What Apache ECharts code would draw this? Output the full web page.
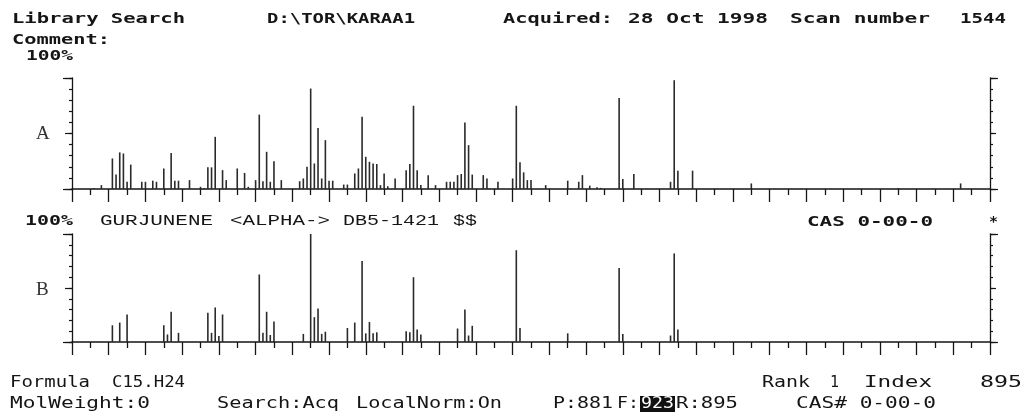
<!DOCTYPE html>
<html><head><meta charset="utf-8">
<script src="https://cdn.jsdelivr.net/npm/echarts@6/dist/echarts.min.js"></script>
<style>html,body{margin:0;padding:0;background:#fff}#c{width:1028px;height:416px}</style>
</head><body><div id="c"></div>
<script>
// Spectrum A (acquired scan 1544): m/z and relative intensity (%)
const mzA = [46,48,51,52,53,54,55,56,59,60,62,63,65,67,68,69,72,75,76,77,78,79,81,82,85,87,88,90,91,92,93,94,95,97,
  102,103,104,105,106,107,108,109,110,111,114,115,117,118,119,120,121,122,123,124,125,126,128,131,132,133,134,135,137,139,
  142,143,144,145,146,147,148,149,152,153,156,160,161,162,163,164,165,169,175,178,179,181,183,184,189,190,193,203,204,205,209,225,265,282];
const intA = [1,3.5,27.5,13,33,32,6.5,22,6.5,6.5,7.5,6.5,18.5,32.5,7.5,7.5,8,2,1,19.5,19.5,47,17,8,18.5,14.5,2,8,67,7,33.5,6.5,25,8,
  7,9.5,20,90.5,23,55,9.5,44,7.5,7.5,4,4,14,18.5,65,29,24.5,23,22.5,3.5,14,2.5,9.5,17,22.5,75,17,3.5,12.5,3.5,
  6.5,6.5,6.5,12.5,13.5,60,39.5,13,12.5,9.5,6.5,9.5,75,24,15,8,8,3.5,7.5,6.5,12.5,3,1.5,1,82,9,13.5,6.5,98,16.5,16.5,5,0.8,5];
// Spectrum B (library: GURJUNENE <ALPHA->)
const mzB = [51,53,55,65,66,67,69,77,78,79,80,81,91,92,93,94,95,103,105,106,107,108,109,115,117,119,120,121,122,123,
  131,132,133,134,135,145,147,148,149,161,162,175,189,190,203,204,205];
const intB = [15.5,18,25.5,15.5,7,28,8.5,27,8.5,32,5.5,25.5,62.5,8.5,28,6.5,19,7.5,100,23,31,7.5,9.5,13,18,75,8,18.5,8,9,
  10,9,60,11.5,7,12.5,30,6,15,85,13,8,68.5,7.5,6,82,11.5];
// Axis settings
const mzMin = 40, mzMax = 290, mzStep = 10;
const pctMin = 0, pctMax = 100;

const ink = '#151515';
function txt(s, x, y, w, o) {
  o = o || {};
  const size = o.size || 14, cw = o.cw || 0.602;
  return {type:'text', x:x, y:y, scaleX: w / (s.length * cw * size), silent:true, z:10,
    style:{text:s, font:(o.weight || 'bold') + ' ' + size + 'px ' + (o.family || '"DejaVu Sans Mono"'),
      fill:o.fill || ink, align:'left', verticalAlign:'middle'}};
}
function xAx(g) {
  return {gridIndex:g, type:'value', min:mzMin, max:mzMax, interval:mzStep,
    axisLine:{onZero:false, lineStyle:{color:ink, width:1.6}},
    axisTick:{length:13, lineStyle:{color:ink, width:1.3}},
    minorTick:{show:true, splitNumber:2, length:6, lineStyle:{color:ink, width:1.3}},
    axisLabel:{show:false}, splitLine:{show:false}, minorSplitLine:{show:false}};
}
function yAx(g, pos, interval, len, line) {
  return {gridIndex:g, type:'value', min:pctMin, max:pctMax, interval:interval, position:pos,
    axisLine:{show:line, onZero:false, lineStyle:{color:ink, width:1.3}},
    axisTick:{show:true, length:len, lineStyle:{color:ink, width:1.2}},
    axisLabel:{show:false}, splitLine:{show:false}};
}
function yAxes(g) {
  return [yAx(g,'left',10,3,true), yAx(g,'left',50,7,false), yAx(g,'left',100,9,false),
          yAx(g,'right',10,3,true), yAx(g,'right',50,6,false), yAx(g,'right',100,8,false)];
}
const dataA = mzA.map((m,i) => [m, intA[i]]);
const dataB = mzB.map((m,i) => [m, intB[i]]);

const chart = echarts.init(document.getElementById('c'), null, {renderer:'canvas'});
chart.setOption({
  animation:false,
  backgroundColor:'#fff',
  grid:[
    {left:72, top:78, width:918, height:111, outerBoundsMode:'none', containLabel:false},
    {left:72, top:234, width:918, height:108, outerBoundsMode:'none', containLabel:false}
  ],
  xAxis:[xAx(0), xAx(1)],
  yAxis:yAxes(0).concat(yAxes(1)),
  series:[
    {type:'bar', xAxisIndex:0, yAxisIndex:0, data:dataA, barWidth:1.6, itemStyle:{color:'#2a2a2a'}, silent:true},
    {type:'bar', xAxisIndex:1, yAxisIndex:6, data:dataB, barWidth:1.6, itemStyle:{color:'#2a2a2a'}, silent:true}
  ],
  graphic:[
    txt('Library Search', 12, 19, 173),
    txt('D:\\TOR\\KARAA1', 267, 19, 148),
    txt('Acquired:', 503, 19, 110),
    txt('28 Oct 1998', 628, 19, 140),
    txt('Scan number', 790, 19, 140),
    txt('1544', 960, 19, 46),
    txt('Comment:', 12, 40, 98),
    txt('100%', 26, 56, 47),
    {type:'text', x:36, y:134, silent:true, style:{text:'A', font:'normal 19px "Liberation Serif"', fill:'#333', align:'left', verticalAlign:'middle'}},
    txt('100%', 25, 221, 48),
    txt('GURJUNENE', 100, 221, 113, {weight:'normal', size:15, family:'"Liberation Mono"', cw:0.6}),
    txt('<ALPHA->', 230, 221, 100, {weight:'normal', size:15, family:'"Liberation Mono"', cw:0.6}),
    txt('DB5-1421', 343, 221, 96, {weight:'normal', size:15, family:'"Liberation Mono"', cw:0.6}),
    txt('$$', 453, 221, 24, {weight:'normal', size:15, family:'"Liberation Mono"', cw:0.6}),
    txt('CAS 0-00-0', 807, 222, 126),
    txt('*', 989, 222, 9),
    {type:'text', x:36, y:290, silent:true, style:{text:'B', font:'normal 19px "Liberation Serif"', fill:'#333', align:'left', verticalAlign:'middle'}},
    txt('Formula', 10, 383, 80, {weight:'normal', size:15}),
    txt('C15.H24', 112, 383, 73, {weight:'normal', size:15}),
    txt('Rank', 762, 383, 48, {weight:'normal', size:15}),
    txt('1', 830, 383, 9, {weight:'normal', size:15}),
    txt('Index', 864, 383, 68, {weight:'normal', size:15}),
    txt('895', 980, 383, 42, {weight:'normal', size:15}),
    txt('MolWeight:0', 10, 404, 140, {weight:'normal', size:15}),
    txt('Search:Acq', 217, 404, 122, {weight:'normal', size:15}),
    txt('LocalNorm:On', 356, 404, 146, {weight:'normal', size:15}),
    txt('P:881', 553, 404, 60, {weight:'normal', size:15}),
    txt('F:', 617, 404, 22, {weight:'normal', size:15}),
    {type:'rect', shape:{x:640, y:396, width:35, height:16}, style:{fill:'#111'}, silent:true, z:9},
    txt('923', 641, 404, 33, {weight:'normal', size:15, fill:'#fff'}),
    txt('R:895', 676, 404, 62, {weight:'normal', size:15}),
    txt('CAS# 0-00-0', 796, 404, 140, {weight:'normal', size:15})
  ]
});
</script>
</body></html>
